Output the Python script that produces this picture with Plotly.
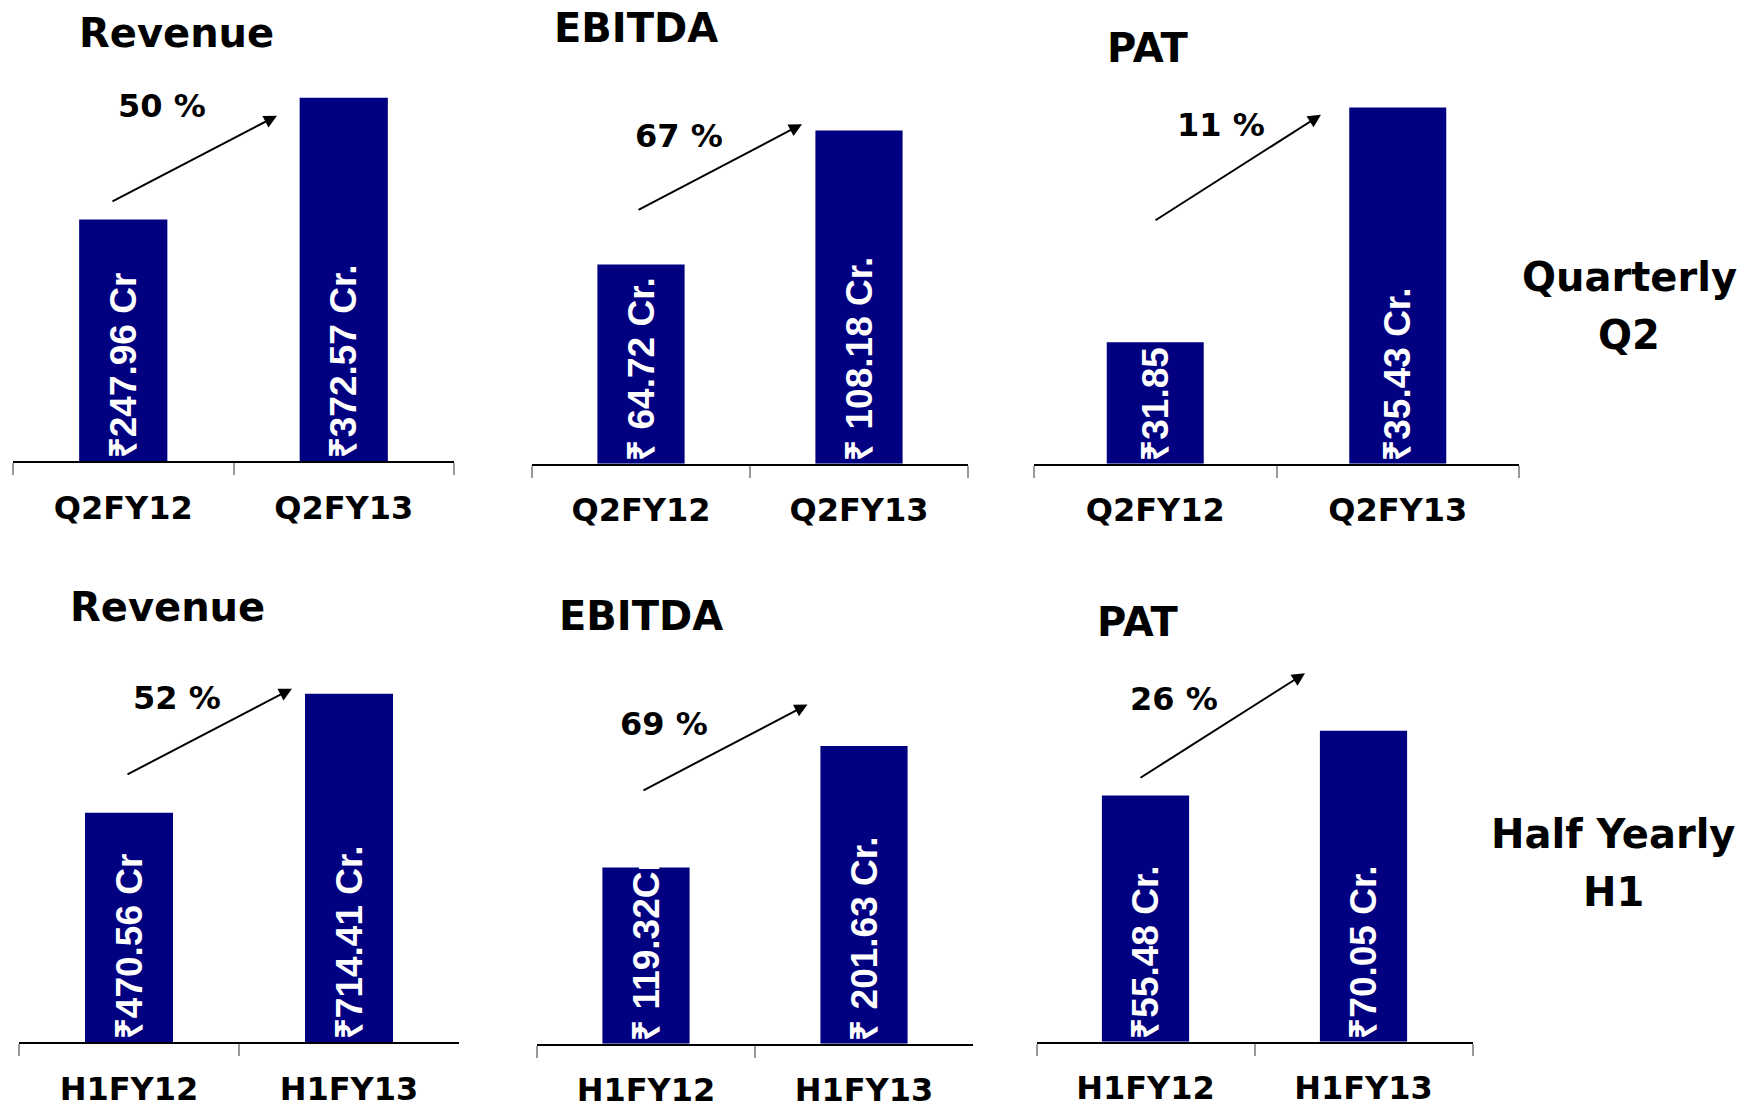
import plotly.graph_objects as go

# ---------------- data ----------------
q_categories = ["Q2FY12", "Q2FY13"]
h_categories = ["H1FY12", "H1FY13"]

revenue_q2 = [247.96, 372.57]
ebitda_q2 = [64.72, 108.18]
pat_q2 = [31.85, 35.43]
revenue_h1 = [470.56, 714.41]
ebitda_h1 = [119.32, 201.63]
pat_h1 = [55.48, 70.05]

revenue_q2_labels = ["₹247.96 Cr", "₹372.57 Cr."]
ebitda_q2_labels = ["₹ 64.72 Cr.", "₹ 108.18 Cr."]
pat_q2_labels = ["₹31.85 Cr.", "₹35.43 Cr."]
revenue_h1_labels = ["₹470.56 Cr", "₹714.41 Cr."]
ebitda_h1_labels = ["₹ 119.32Cr", "₹ 201.63 Cr."]
pat_h1_labels = ["₹55.48 Cr.", "₹70.05 Cr."]

panel_titles = ["Revenue", "EBITDA", "PAT", "Revenue", "EBITDA", "PAT"]
growth_labels = ["50 %", "67 %", "11 %", "52 %", "69 %", "26 %"]
row_label_lines = [["Quarterly", "Q2"], ["Half Yearly", "H1"]]

# ---------------- layout geometry (pixels in a 1756x1109 page) ----------------
W, H = 1756, 1109
NAVY = "#000080"
TITLE_FONT = "DejaVu Sans"
BAR_FONT = "Liberation Sans, Arial, sans-serif"

panels = [
    dict(cats=q_categories, vals=revenue_q2, labels=revenue_q2_labels, base=0,
         x0=13, x1=454, axis=462.5, top=55, ppu=0.978,
         title=(176, 33), growth=(162, 106), arrow=((111, 202.5), (277, 116))),
    dict(cats=q_categories, vals=ebitda_q2, labels=ebitda_q2_labels, base=0,
         x0=532, x1=968, axis=465, top=55, ppu=3.088,
         title=(636, 28), growth=(679, 136), arrow=((637, 211), (802, 124.5))),
    dict(cats=q_categories, vals=pat_q2, labels=pat_q2_labels, base=30,
         x0=1034, x1=1519, axis=465, top=55, ppu=65.8,
         title=(1147, 48), growth=(1221, 125), arrow=((1154, 221.5), (1321, 115))),
    dict(cats=h_categories, vals=revenue_h1, labels=revenue_h1_labels, base=0,
         x0=19, x1=459, axis=1045, top=650, ppu=0.489,
         title=(167, 609), growth=(177, 700), arrow=((126, 777), (292, 690.5))),
    dict(cats=h_categories, vals=ebitda_h1, labels=ebitda_h1_labels, base=0,
         x0=537, x1=973, axis=1046.5, top=650, ppu=1.48,
         title=(641, 618), growth=(664, 726), arrow=((642, 793), (807.5, 706.5))),
    dict(cats=h_categories, vals=pat_h1, labels=pat_h1_labels, base=0,
         x0=1036.5, x1=1472.5, axis=1044.5, top=650, ppu=4.451,
         title=(1137.5, 624), growth=(1174, 701), arrow=((1139, 780.5), (1305, 675))),
]
row_label_pos = [[(1629, 278), (1629, 336)], [(1613, 836), (1613, 894)]]


def fx(px):
    return px / W


def fy(py):
    return 1 - py / H


fig = go.Figure()
annotations = []

for i, p in enumerate(panels, start=1):
    sfx = "" if i == 1 else str(i)
    xa, ya = "x" + sfx, "y" + sfx
    base = p["base"]
    fig.add_trace(go.Bar(
        x=p["cats"],
        y=[v - base for v in p["vals"]],
        base=base,
        text=p["labels"],
        textposition="inside",
        insidetextanchor="start",
        textangle=-90,
        constraintext="none",
        cliponaxis=True,
        textfont=dict(family=BAR_FONT, size=37, color="white", weight="bold"),
        marker=dict(color=NAVY, line=dict(width=0)),
        xaxis=xa, yaxis=ya,
        showlegend=False,
        hoverinfo="skip",
    ))
    fig.layout["xaxis" + sfx] = dict(
        domain=[fx(p["x0"]), fx(p["x1"])], anchor=ya, type="category",
        range=[-0.5, 1.5], showline=True, linecolor="black", linewidth=2,
        ticks="outside", tickson="boundaries", ticklen=12, tickwidth=2,
        tickcolor="#9a9a9a", showgrid=False, zeroline=False,
        tickfont=dict(family=TITLE_FONT, size=32, color="black", weight="bold"),
        ticklabelstandoff=17, fixedrange=True,
    )
    fig.layout["yaxis" + sfx] = dict(
        domain=[fy(p["axis"]), fy(p["top"])], anchor=xa,
        range=[base, base + (p["axis"] - p["top"]) / p["ppu"]],
        visible=False, showgrid=False, zeroline=False, fixedrange=True,
    )
    tx, ty = p["title"]
    annotations.append(dict(
        text=panel_titles[i - 1], x=fx(tx), y=fy(ty), xref="paper", yref="paper",
        xanchor="center", yanchor="middle", showarrow=False,
        font=dict(family=TITLE_FONT, size=40, color="black", weight="bold"),
    ))
    gx, gy = p["growth"]
    annotations.append(dict(
        text=growth_labels[i - 1], x=fx(gx), y=fy(gy), xref="paper", yref="paper",
        xanchor="center", yanchor="middle", showarrow=False,
        font=dict(family=TITLE_FONT, size=32, color="black", weight="bold"),
    ))
    (t0x, t0y), (h0x, h0y) = p["arrow"]
    annotations.append(dict(
        text="", x=fx(h0x), y=fy(h0y), ax=t0x - h0x, ay=t0y - h0y,
        xref="paper", yref="paper", axref="pixel", ayref="pixel",
        showarrow=True, arrowhead=2, arrowsize=1.3, arrowwidth=2,
        arrowcolor="black", standoff=0, startstandoff=0,
    ))

for lines, positions in zip(row_label_lines, row_label_pos):
    for line, (lx, ly) in zip(lines, positions):
        annotations.append(dict(
            text=line, x=fx(lx), y=fy(ly), xref="paper", yref="paper",
            xanchor="center", yanchor="middle", showarrow=False,
            font=dict(family=TITLE_FONT, size=40, color="black", weight="bold"),
        ))

fig.update_layout(
    width=W, height=H,
    margin=dict(l=0, r=0, t=0, b=0),
    paper_bgcolor="white", plot_bgcolor="white",
    bargap=0.6,
    annotations=annotations,
    showlegend=False,
)

fig.write_html("out.html", config={"displayModeBar": False})
